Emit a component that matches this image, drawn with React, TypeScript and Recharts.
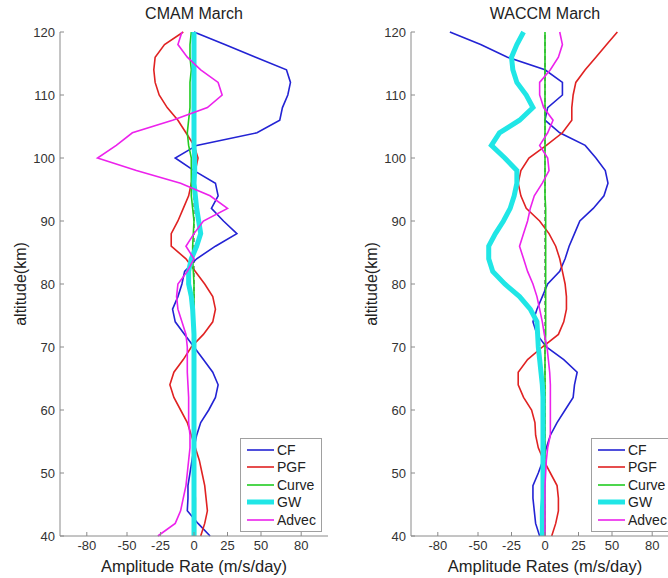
import React from 'react';
import { LineChart, Line, XAxis, YAxis, Legend, ReferenceLine } from 'recharts';

// altitude grid (km)
const altitudes = [
  40, 42, 44, 46, 48, 50, 52, 54, 56, 58, 60, 62, 64, 66, 68, 70, 72, 74, 76, 78,
  80, 82, 84, 86, 88, 90, 92, 94, 96, 98, 100, 102, 104, 106, 108, 110, 112, 114, 116, 118, 120,
];

const xTicks = [-80, -50, -25, 0, 25, 50, 80];
const yTicks = [40, 50, 60, 70, 80, 90, 100, 110, 120];

// CMAM March (m/s/day)
const cmamCF = [
  12, 3, -5, -4.5, -4.5, -3, -1.5, 0, 2, 5, 11, 16, 18, 14, 7, 0, -7, -14, -16, -12,
  -9, -7, 2, 16, 32, 22, 13, 18, 16, 0, -14, 2, 47, 64, 66, 70, 72, 69, 46, 23, 0,
];
const cmamPGF = [
  5, 8, 10, 9, 8, 6, 4, 1, -2, -5, -10, -15, -18, -15, -8, -2, 7, 14, 16, 14,
  8, 1, -6, -17, -17, -12, -8, -4, -2, 1, 3, 0, -6, -12, -20, -26, -29, -30, -29, -22, -8,
];
const cmamCurve = [
  1, 1, 1, 1, 0.5, 0.5, 0, 0, 0, 0, 0, 0, 0, 0, 0, 0, 0, 0, 0, 0,
  0, -0.5, -1, -1, -0.5, 0, -1, -2, -2, -2, -2, -4, -5, -4, -3, -3, -3, -2, -3, -3, -2,
];
const cmamGW = [
  0, 0, 0, 0, 0, 0, 0, 0, 0, 0, 0, 0, 0, 0, 0, 0, 0, -0.5, -1, -2,
  -4, -4, -2, 2, 5, 3.5, 2, 1, 0, 0.5, 0.5, 0, 0, 0, 0, 0, 0, 0, 0, 0, 0,
];
const cmamAdvec = [
  -27, -14, -10, -8, -6, -5, -4, -3, -3, -4, -4, -4, -4.5, -5, -5, -5, -6, -9, -12, -13,
  -12, -5, 0, -6, 0, 7, 25, 12, -10, -43, -72, -58, -46, -16, 10, 21, 18, 5, -5, -12, -9,
];

// WACCM March (m/s/day)
const waccmCF = [
  -4, -7, -8, -9, -9, -5, -1.5, 1, 4, 9, 15, 21, 22, 24, 14, 1, -6, -9, -6, -2,
  2, 11, 15, 18, 22, 26, 36, 44, 47, 45, 38, 30, 11, 0, 2, 13, 13, 0, -28, -48, -71,
];
const waccmPGF = [
  5, 8, 10, 10, 9, 4, -1, -5, -7, -7.5, -10, -16, -20, -20, -13, -2, 10, 14, 16, 16,
  15, 13, 11, 8, 3, -4, -14, -18, -20, -18, -12, 1, 13, 20, 20, 21, 23, 30, 38, 46, 54,
];
const waccmCurve = [
  0, 0, 0, 0, 0, 0, 0, 0, 0, 0, 0, 0, 0, 0, 0, 0, 0.5, 0.5, 0.5, 0.5,
  0.5, 0.5, 0.5, 0.5, 0.5, 0.5, 0.5, 0, 0, 0, 0, 0, 0, 0, 0, 0, 0, 0, 0, 0, 0,
];
const waccmGW = [
  -2, -2, -2, -1.5, -1.5, -1.5, -1.5, -1.5, -1.5, -1.5, -1.5, -1.5, -2, -3, -4, -5, -5.5, -6, -11, -19,
  -30, -39, -42, -42, -37, -31, -26, -23, -21, -21, -30, -40, -34, -19, -9, -14, -21, -24, -25, -21, -16,
];
const waccmAdvec = [
  0, 0, 0, 0, 0, 0.5, 1, 2, 4, 4, 4, 4, 4, 3.5, 2.5, 1.5, -0.5, -2, -4, -6,
  -9, -13, -16, -19, -16, -13, -11, -8, -2, 3, 2, -4, 2, 6, -1, -4, -4, 4, 10, 13, 11,
];

const series = [
  { key: 'CF', color: '#2323d4', width: 1.6 },
  { key: 'PGF', color: '#e02222', width: 1.6 },
  { key: 'Curve', color: '#22cc22', width: 1.6 },
  { key: 'GW', color: '#20e6e6', width: 5 },
  { key: 'Advec', color: '#ec22ec', width: 1.6 },
];

const buildRows = (cf: number[], pgf: number[], curve: number[], gw: number[], advec: number[]) =>
  altitudes.map((alt, i) => ({
    alt,
    CF: cf[i],
    PGF: pgf[i],
    Curve: curve[i],
    GW: gw[i],
    Advec: advec[i],
  }));

const cmamData = buildRows(cmamCF, cmamPGF, cmamCurve, cmamGW, cmamAdvec);
const waccmData = buildRows(waccmCF, waccmPGF, waccmCurve, waccmGW, waccmAdvec);

const FONT = '"Liberation Sans", Arial, sans-serif';
const CHART_W = 340;
const CHART_H = 578;

const LegendBox = () => (
  <div
    style={{
      border: '1px solid #a0a0a0',
      background: '#fff',
      width: 82,
      boxSizing: 'border-box',
      padding: '2px 0 2px 6px',
      fontFamily: FONT,
      fontSize: 14,
      color: '#222',
    }}
  >
    {series.map((s) => (
      <div key={s.key} style={{ display: 'flex', alignItems: 'center', height: 17.5 }}>
        <svg width={27} height={8}>
          <line x1={0} y1={4} x2={27} y2={4} stroke={s.color} strokeWidth={s.width} />
        </svg>
        <span style={{ marginLeft: 3 }}>{s.key}</span>
      </div>
    ))}
  </div>
);

interface PanelProps {
  data: ReturnType<typeof buildRows>;
  left: number;
  title: string;
  xLabel: string;
}

const Panel: React.FC<PanelProps> = ({ data, left, title, xLabel }) => (
  <div style={{ position: 'absolute', left, top: 0, width: CHART_W, height: CHART_H }}>
    <div
      style={{
        position: 'absolute',
        left: 60,
        width: 268,
        top: 5,
        textAlign: 'center',
        fontFamily: FONT,
        fontSize: 16,
        color: '#222',
      }}
    >
      {title}
    </div>
    <div
      style={{
        position: 'absolute',
        left: 21,
        top: 284,
        transform: 'translate(-50%, -50%) rotate(-90deg)',
        whiteSpace: 'nowrap',
        fontFamily: FONT,
        fontSize: 16,
        color: '#222',
      }}
    >
      altitude(km)
    </div>
    <div
      style={{
        position: 'absolute',
        left: 60,
        width: 268,
        top: 557,
        textAlign: 'center',
        fontFamily: FONT,
        fontSize: 16.5,
        color: '#222',
      }}
    >
      {xLabel}
    </div>
    <LineChart
      width={CHART_W}
      height={CHART_H}
      layout="vertical"
      data={data}
      margin={{ top: 32, right: 12, bottom: 12, left: 0 }}
    >
      <XAxis
        type="number"
        domain={[-100, 100]}
        ticks={xTicks}
        interval={0}
        height={30}
        stroke="#8a8a8a"
        tickSize={-4}
        tickMargin={9}
        tick={{ fill: '#333', fontSize: 13, fontFamily: FONT }}
      />
      <YAxis
        type="number"
        dataKey="alt"
        domain={[40, 120]}
        ticks={yTicks}
        interval={0}
        reversed
        width={60}
        stroke="#8a8a8a"
        tickSize={-4}
        tickMargin={9}
        tick={{ fill: '#333', fontSize: 13, fontFamily: FONT }}
      />
      <ReferenceLine x={0} stroke="#333" strokeWidth={1} strokeDasharray="4 3" />
      {series.map((s) => (
        <Line
          key={s.key}
          type="linear"
          dataKey={s.key}
          stroke={s.color}
          strokeWidth={s.width}
          dot={false}
          isAnimationActive={false}
        />
      ))}
      <Legend
        layout="vertical"
        align="center"
        verticalAlign="middle"
        content={() => <LegendBox />}
        wrapperStyle={{ left: 240, top: 438, width: 'auto' }}
      />
    </LineChart>
  </div>
);

export default function App() {
  return (
    <div
      style={{
        position: 'absolute',
        left: 0,
        top: 0,
        width: 668,
        height: 578,
        overflow: 'hidden',
        background: '#fff',
      }}
    >
      <Panel data={cmamData} left={0} title="CMAM March" xLabel="Amplitude Rate (m/s/day)" />
      <Panel data={waccmData} left={351} title="WACCM March" xLabel="Amplitude Rates (m/s/day)" />
    </div>
  );
}
